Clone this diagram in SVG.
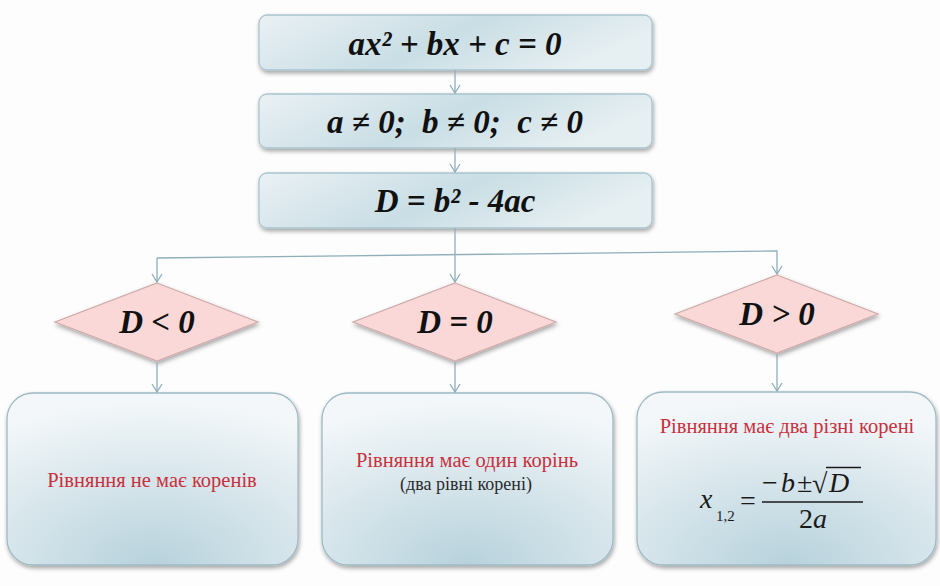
<svg xmlns="http://www.w3.org/2000/svg" width="940" height="586" viewBox="0 0 940 586">
<defs>
<linearGradient id="gBar" x1="0" y1="0" x2="1" y2="0.3">
<stop offset="0" stop-color="#eaf1f4"/>
<stop offset="0.55" stop-color="#c9dee5"/>
<stop offset="1" stop-color="#e6eff2"/>
</linearGradient>
<radialGradient id="gBox" cx="0.5" cy="1" r="0.95">
<stop offset="0" stop-color="#b7d2dc"/>
<stop offset="1" stop-color="#f3f7f9"/>
</radialGradient>
<filter id="sh" x="-10%" y="-10%" width="125%" height="135%">
<feDropShadow dx="1" dy="2.5" stdDeviation="2" flood-color="#000" flood-opacity="0.35"/>
</filter>
<marker id="arr" viewBox="0 0 12 12" refX="11" refY="6" markerWidth="12" markerHeight="12" markerUnits="userSpaceOnUse" orient="auto">
<path d="M3,1 L11,6 L3,11" fill="none" stroke="#8eaeba" stroke-width="1.3"/>
</marker>
</defs>
<style>
.bar{fill:url(#gBar);stroke:#a9c5cf;stroke-width:1.3;filter:url(#sh)}
.box{fill:url(#gBox);stroke:#9dbac5;stroke-width:1.3;filter:url(#sh)}
.dia{fill:#fad8d8;stroke:#cfaaaa;stroke-width:1.2;filter:url(#sh)}
.conn{fill:none;stroke:#8eaeba;stroke-width:1.3}
text{font-family:"Liberation Serif","Times New Roman",serif}
.t{font-weight:bold;font-style:italic;fill:#111;text-anchor:middle;font-size:33px}
.r{fill:#c8303c;text-anchor:middle;font-size:20.5px}
.k{fill:#2a2a2a;text-anchor:middle;font-size:18px}
.m{fill:#1a1a1a;font-size:28px}
.s{fill:#1a1a1a;font-size:15px}
.i{font-style:italic}
</style>
<rect width="940" height="586" fill="#fdfdfd"/>

<g id="eq">
<rect class="bar" x="259" y="15" width="393" height="55" rx="8"/>
<text class="t" x="455" y="55">ax² + bx + c = 0</text>
</g>
<g id="cond">
<rect class="bar" x="259" y="94" width="393" height="54" rx="8"/>
<text class="t" x="455" y="133" xml:space="preserve">a ≠ 0;  b ≠ 0;  c ≠ 0</text>
</g>
<g id="disc">
<rect class="bar" x="259" y="173" width="393" height="55" rx="8"/>
<text class="t" x="455" y="212">D = b² - 4ac</text>
</g>

<g id="dneg">
<polygon class="dia" points="157,283 258,322 157,361 55,322"/>
<text class="t" x="157" y="333">D &lt; 0</text>
</g>
<g id="dzero">
<polygon class="dia" points="455,283 556,322 455,361 353,322"/>
<text class="t" x="455" y="333">D = 0</text>
</g>
<g id="dpos">
<polygon class="dia" points="777,275 878,314 777,353 675,314"/>
<text class="t" x="777" y="325">D &gt; 0</text>
</g>

<g id="none">
<rect class="box" x="7" y="393" width="291" height="172" rx="26"/>
<text class="r" x="152" y="487">Рівняння не має коренів</text>
</g>
<g id="one">
<rect class="box" x="322" y="393" width="291" height="172" rx="26"/>
<text class="r" x="467" y="467">Рівняння має один корінь</text>
<text class="k" x="466" y="490">(два рівні корені)</text>
</g>
<g id="two">
<rect class="box" x="637" y="392" width="299" height="173" rx="26"/>
<text class="r" x="787" y="433">Рівняння має два різні корені</text>
<text class="m i" x="700" y="508">x</text>
<text class="s" x="716" y="521">1,2</text>
<text class="m" x="740" y="510">=</text>
<line x1="762" y1="502" x2="863" y2="502" stroke="#1a1a1a" stroke-width="1.4"/>
<text class="m" x="762" y="492">−</text>
<text class="m i" x="781" y="492">b</text>
<text class="m" x="797" y="492">±</text>
<text class="m" x="812" y="493">√</text>
<line x1="826" y1="467.5" x2="861" y2="467.5" stroke="#1a1a1a" stroke-width="1.3"/>
<text class="m i" x="829" y="492">D</text>
<text class="m" x="813" y="528" text-anchor="middle">2<tspan class="i">a</tspan></text>
</g>

<g id="connectors">
<path class="conn" d="M455,70 L455,93" marker-end="url(#arr)"/>
<path class="conn" d="M455,148 L455,172" marker-end="url(#arr)"/>
<path class="conn" d="M455,228 L455,282" marker-end="url(#arr)"/>
<path class="conn" d="M157,258 L777,251 L777,274" marker-end="url(#arr)"/>
<path class="conn" d="M157,258 L157,282" marker-end="url(#arr)"/>
<path class="conn" d="M157,362 L157,392" marker-end="url(#arr)"/>
<path class="conn" d="M455,362 L455,392" marker-end="url(#arr)"/>
<path class="conn" d="M777,354 L777,391" marker-end="url(#arr)"/>
</g>
</svg>
